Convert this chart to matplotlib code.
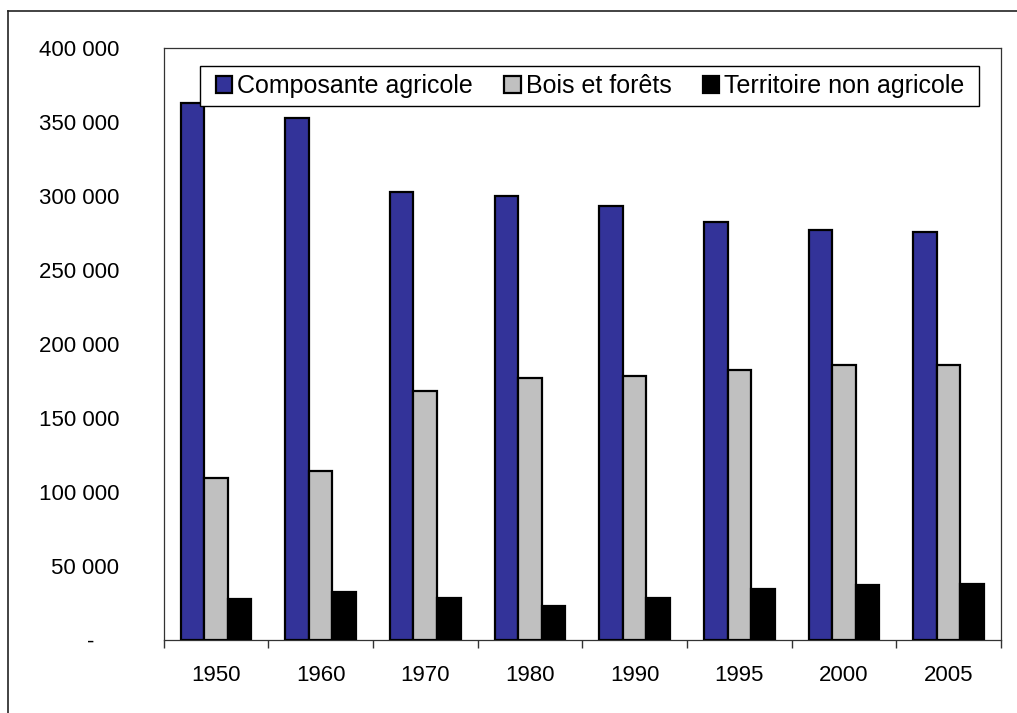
import matplotlib
matplotlib.use("Agg")
import matplotlib.pyplot as plt
from matplotlib.patches import Rectangle
from matplotlib.lines import Line2D
import numpy as np

plt.rcParams['font.family'] = ['Liberation Sans', 'DejaVu Sans']

# Répartition du territoire (hectares)
years = ["1950", "1960", "1970", "1980", "1990", "1995", "2000", "2005"]
agricole = [363000, 353000, 303000, 300000, 293000, 282500, 277000, 276000]
bois = [109500, 114000, 168000, 176800, 178400, 182500, 186000, 186000]
non_agricole = [27500, 32200, 28600, 23200, 28200, 34500, 37000, 38000]
series_names = ["Composante agricole", "Bois et forêts", "Territoire non agricole"]
series_colors = ["#333399", "#C0C0C0", "#000000"]

W, H = 1017, 713
fig = plt.figure(figsize=(W / 100, H / 100), dpi=100)
ax = fig.add_axes([163.5 / W, (H - 640) / H, 837.5 / W, 592 / H])

x = np.arange(len(years))
bw = 0.225
handles = []
for i, (vals, name, col) in enumerate(zip([agricole, bois, non_agricole], series_names, series_colors)):
    b = ax.bar(x + (i - 1) * bw, vals, width=bw, color=col, edgecolor="black",
               linewidth=1.6, label=name, zorder=3)
    handles.append(b)

ax.set_xlim(-0.5, len(years) - 0.5)
ax.set_ylim(0, 400000)

yt = np.arange(0, 400001, 50000)
ax.set_yticks(yt)
ax.set_yticklabels(["-    " if v == 0 else f"{v:,}".replace(",", " ") for v in yt])
ax.tick_params(axis="y", length=0, pad=32, labelsize=16)

ax.set_xticks(x)
ax.set_xticklabels(years)
ax.tick_params(axis="x", which="major", length=0, pad=18, labelsize=16)
ax.set_xticks(np.arange(-0.5, len(years), 1.0), minor=True)
ax.tick_params(axis="x", which="minor", length=6, width=1, color="#333333", direction="out")

for s in ax.spines.values():
    s.set_color("#333333")
    s.set_linewidth(0.9)

# Cadre de la légende
fig.patches.append(Rectangle((200 / W, 1 - 106 / H), 779 / W, 40 / H,
                             transform=fig.transFigure, facecolor="white",
                             edgecolor="black", linewidth=1.0, zorder=5))
leg = fig.legend(handles=handles, labels=series_names, ncol=3, frameon=False,
                 loc="center left", bbox_to_anchor=(216 / W, 1 - 86 / H),
                 borderaxespad=0, borderpad=0, fontsize=18,
                 handlelength=0.65, handleheight=0.65, handletextpad=0.2,
                 columnspacing=1.25)
leg.set_zorder(6)

# Cadre extérieur du graphique
fig.add_artist(Line2D([8 / W, 8 / W], [0, 1 - 11 / H], transform=fig.transFigure,
                      color="#222222", linewidth=1.2))
fig.add_artist(Line2D([8 / W, 1], [1 - 11 / H, 1 - 11 / H], transform=fig.transFigure,
                      color="#222222", linewidth=1.2))

fig.savefig("out.png", dpi=100)
